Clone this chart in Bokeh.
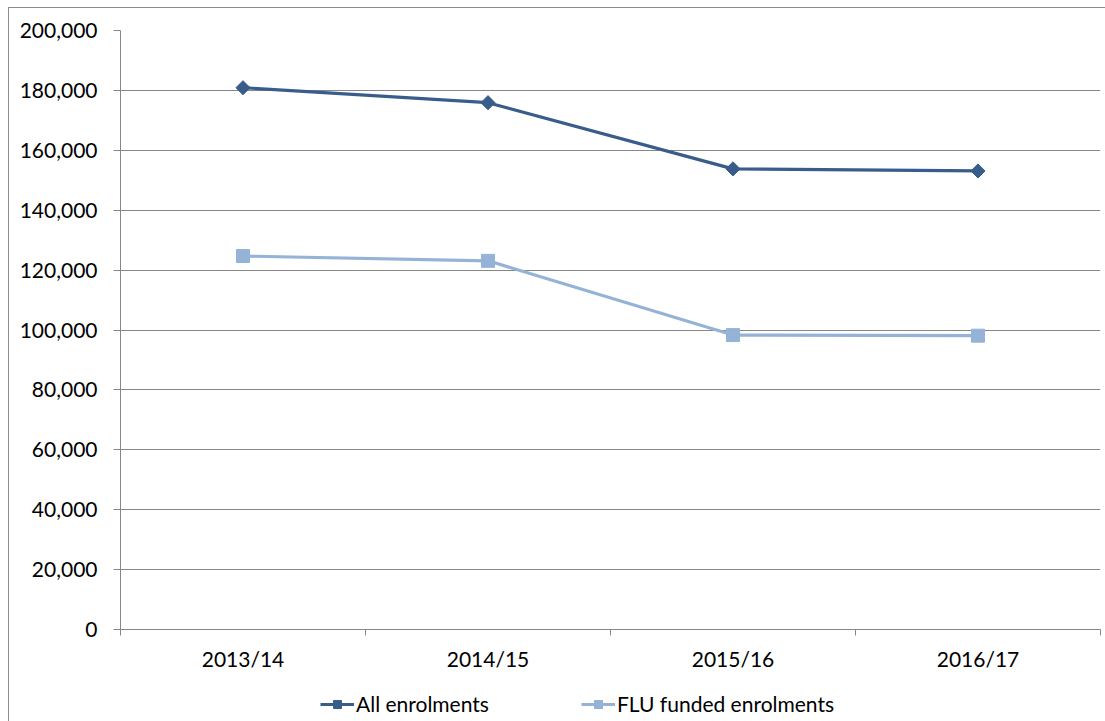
from bokeh.plotting import figure
from bokeh.layouts import column
from bokeh.models import FixedTicker, NumeralTickFormatter, Range1d, Legend, LegendItem, ColumnDataSource
from bokeh.embed import file_html
from bokeh.resources import INLINE

years = ["2013/14", "2014/15", "2015/16", "2016/17"]
all_enrolments = [180900, 175900, 153800, 153100]
flu_enrolments = [124700, 123100, 98300, 98100]
y_ticks = list(range(0, 200001, 20000))

xpos = [i + 0.5 for i in range(len(years))]
src = ColumnDataSource(dict(x=xpos, all=all_enrolments, flu=flu_enrolments))

FONT = "Lato"
FSIZE = "21px"
GRID = "#878787"
EDGE = "1px solid #8c8c8c"
C_ALL = "#385D8A"
C_FLU = "#95B3D7"

p = figure(frame_width=979, frame_height=598, output_backend="svg", toolbar_location=None,
           x_range=Range1d(0, len(years)), y_range=Range1d(0, 200000),
           min_border_left=111, min_border_right=6, min_border_top=22, min_border_bottom=52)
p.margin = (7, 0, 0, 8)
p.styles = {"border-left": EDGE, "border-top": EDGE}
p.outline_line_color = None
p.background_fill_color = "white"
p.border_fill_color = "white"

p.xgrid.visible = False
p.ygrid.ticker = FixedTicker(ticks=y_ticks)
p.ygrid.grid_line_color = GRID
p.ygrid.grid_line_width = 1

# y axis
p.yaxis.ticker = FixedTicker(ticks=y_ticks)
p.yaxis.formatter = NumeralTickFormatter(format="0,0")
p.yaxis.axis_line_color = GRID
p.yaxis.major_tick_line_color = GRID
p.yaxis.major_tick_out = 7
p.yaxis.major_tick_in = 0
p.yaxis.minor_tick_line_color = None
p.yaxis.major_label_text_font = FONT
p.yaxis.major_label_text_font_size = FSIZE
p.yaxis.major_label_text_color = "black"
p.yaxis.major_label_standoff = 16

# x axis: labels at category centres, ticks at category boundaries
p.xaxis.ticker = FixedTicker(ticks=xpos, minor_ticks=list(range(len(years) + 1)))
p.xaxis.major_label_overrides = {x: y for x, y in zip(xpos, years)}
p.xaxis.axis_line_color = GRID
p.xaxis.major_tick_line_color = None
p.xaxis.major_tick_out = 0
p.xaxis.major_tick_in = 0
p.xaxis.minor_tick_line_color = GRID
p.xaxis.minor_tick_out = 6
p.xaxis.minor_tick_in = 0
p.xaxis.major_label_text_font = FONT
p.xaxis.major_label_text_font_size = FSIZE
p.xaxis.major_label_text_color = "black"
p.xaxis.major_label_standoff = 10


def draw_series(fig):
    a_line = fig.line("x", "all", source=src, line_color=C_ALL, line_width=3.2)
    a_mark = fig.scatter("x", "all", source=src, marker="square", angle=0.785398, size=10,
                         fill_color=C_ALL, line_color=C_ALL)
    f_line = fig.line("x", "flu", source=src, line_color=C_FLU, line_width=3.2)
    f_mark = fig.scatter("x", "flu", source=src, marker="square", size=13,
                         fill_color=C_FLU, line_color=C_FLU)
    return a_line, a_mark, f_line, f_mark


draw_series(p)

# legend strip beneath the chart (its own series sit outside its view)
lf = figure(width=1096, height=41, output_backend="svg", toolbar_location=None,
            x_range=Range1d(100, 101), y_range=Range1d(1e7, 1e7 + 1),
            x_axis_location=None, y_axis_location=None,
            min_border_left=0, min_border_right=0, min_border_top=0, min_border_bottom=0)
lf.margin = (0, 0, 0, 8)
lf.styles = {"border-left": EDGE}
lf.outline_line_color = None
lf.xgrid.visible = False
lf.ygrid.visible = False
lf.background_fill_color = "white"
lf.border_fill_color = "white"
la, lam, lfl, lfm = draw_series(lf)

legend = Legend(items=[LegendItem(label="All enrolments", renderers=[la, lam]),
                       LegendItem(label="FLU funded enrolments", renderers=[lfl, lfm])],
                orientation="horizontal", location=(200, 5),
                glyph_width=34, glyph_height=20, label_height=20, label_standoff=2, spacing=92,
                padding=0, margin=0, border_line_color=None, background_fill_alpha=0,
                label_text_font=FONT, label_text_font_size=FSIZE, label_text_color="black")
lf.add_layout(legend, "center")

layout = column(p, lf, spacing=0)
open("out.html", "w").write(file_html(layout, INLINE))
